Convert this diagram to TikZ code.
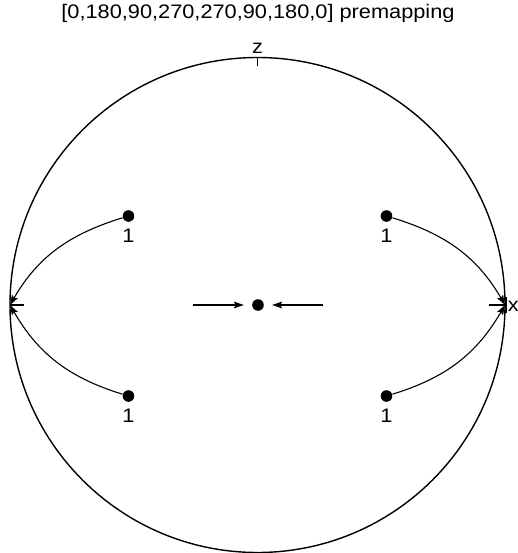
\documentclass[tikz,border=0pt]{standalone}
\usepackage{fontspec}
\usepackage{tikz}
\usetikzlibrary{arrows.meta,positioning}
\newfontfamily\labelfont[FakeStretch=1.11]{Liberation Sans}

\begin{document}
\begin{tikzpicture}[
        x=0.5pt, y=0.5pt,
        dot/.style={
            circle,
            fill=black,
            inner sep=0pt,
            minimum size=5.8pt
        },
        lab/.style={
            font=\labelfont\fontsize{9.8}{11}\selectfont,
            inner sep=1.5pt
        },
        arrow/.style={-{Stealth[length=5pt, width=3.4pt, inset=1pt]}, line width=0.55pt},
        tick/.style={line width=0.55pt}
    ]
    \useasboundingbox (-257.5,-248) rectangle (260.5,305);

    % sphere and axis points
    \coordinate (centre) at (0,0);
    \draw[line width=0.7pt] (centre) circle[radius=247.5];
    \coordinate (ztop) at (0,247.5);
    \coordinate (xleft) at (-247.5,0);
    \coordinate (xright) at (247.5,0);

    \node[lab] (title) at (0.5,292) {[0,180,90,270,270,90,180,0] premapping};
    \node[lab, above=0.5pt of ztop] (zlab) {z};
    \node[lab, anchor=west, inner sep=0pt] (xlab) at (250,-1) {x};

    \node[dot] (mid) at (0.5,0) {};
    \node[dot] (ul) at (-129,89) {};
    \node[dot] (ur) at (129,89) {};
    \node[dot] (ll) at (-129,-91) {};
    \node[dot] (lr) at (129,-91) {};

    \node[lab, below=1.5pt of ul] (ulone) {1};
    \node[lab, below=1.5pt of ur] (urone) {1};
    \node[lab, below=1.5pt of ll] (llone) {1};
    \node[lab, below=1.5pt of lr] (lrone) {1};

    % axis ticks
    \draw[tick] (ztop) -- ++(0,-8.5);
    \draw[tick] (xleft) -- ++(14,0);
    \draw[tick] (xright) -- ++(-16,0);
    \draw[tick] ([xshift=0.5pt, yshift=-4pt]xright) -- ([xshift=0.5pt, yshift=4pt]xright);

    % flow towards the middle
    \coordinate (inleft) at (-64,0);
    \coordinate (inright) at (65.5,0);
    \draw[arrow, shorten >=4pt] (inleft) -- (mid);
    \draw[arrow, shorten >=4pt] (inright) -- (mid);

    % flow to the x points
    \draw[arrow] (ul) to[out=197, in=60] (xleft);
    \draw[arrow] (ll) to[out=163, in=-60] (xleft);
    \draw[arrow] (ur) to[out=-17, in=120] (xright);
    \draw[arrow] (lr) to[out=17, in=-120] (xright);
\end{tikzpicture}
\end{document}
